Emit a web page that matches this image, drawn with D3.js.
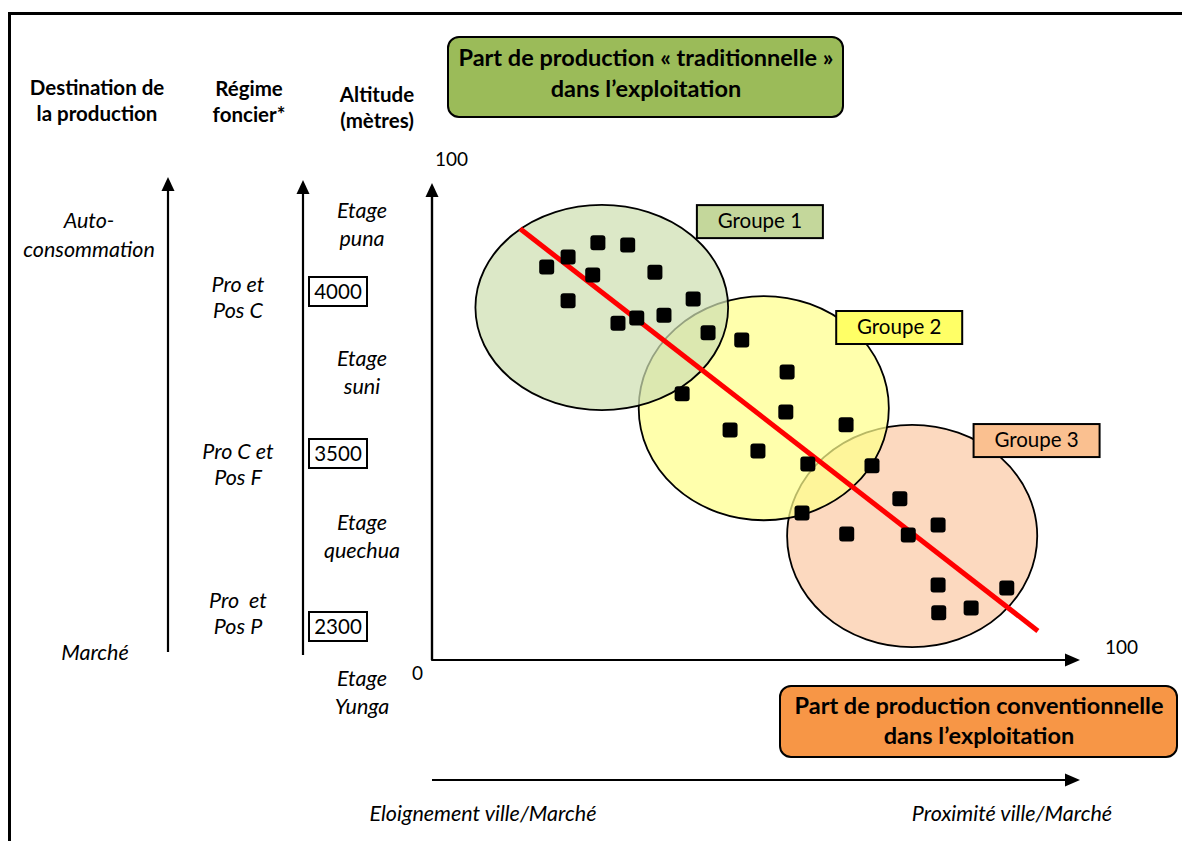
<!DOCTYPE html>
<html>
  <head>
    <meta charset="utf-8">
    <title>Typologie des exploitations</title>
    <script src="https://d3js.org/d3.v7.min.js"></script>
  </head>
  <style>
    body { margin: 0; background: #fff; }
    svg text { font-family: Lato, "Open Sans", sans-serif; fill: #000; font-size: 20.5px; }
    .head { font-weight: bold; font-size: 20.5px; }
    .title { font-weight: bold; font-size: 23.5px; }
    .it { font-style: italic; font-size: 21.5px; }
  </style>
  <body>
    <svg id="chart" width="1182" height="841"></svg>
    <script>
      // nuage de points (part conventionnelle en x, part traditionnelle en y, 0-100)
      var pointsX = [17.7, 21.0, 25.6, 30.2, 24.8, 34.4, 21.0, 40.3, 28.7, 31.6, 35.8, 42.6, 47.8, 54.8, 38.6,
                     54.6, 46.0, 50.3, 63.9, 58.0, 67.9, 72.2, 57.1, 78.1, 64.0, 73.5, 78.1, 88.7, 83.2, 78.2];
      var pointsY = [82.4, 84.5, 87.5, 87.0, 80.7, 81.3, 75.3, 75.7, 70.6, 71.7, 72.3, 68.6, 67.1, 60.4, 55.8,
                     52.0, 48.2, 43.8, 49.3, 41.1, 40.7, 33.8, 30.8, 28.3, 26.4, 26.2, 15.7, 15.1, 10.9, 9.9];

      // droite de tendance
      var trendX = [13.6, 93.5];
      var trendY = [90.4, 6.1];

      // groupes : centre et rayons en unites des axes
      var groupNames = ["Groupe 1", "Groupe 2", "Groupe 3"];
      var groupCx = [26.2, 51.2, 74.1];
      var groupCy = [73.9, 52.8, 26.0];
      var groupRx = [19.5, 19.3, 19.3];
      var groupRy = [21.5, 23.5, 23.3];
      var labelX = [50.6, 72.1, 93.3];
      var labelY = [91.8, 69.6, 45.9];

      // colonnes de gauche
      var altitudes = ["4000", "3500", "2300"];
      var etages = ["puna", "suni", "quechua", "Yunga"];
      var regimes = [["Pro et", "Pos C"], ["Pro C et", "Pos F"], ["Pro\u00a0 et", "Pos P"]];

      var fillEllipse = ["#cfdfb2", "#ffff8c", "#fbcba6"];
      var fillLabel = ["#c4d79b", "#ffff66", "#fac090"];

      var svg = d3.select("#chart");

      var xScale = d3.scaleLinear().domain([0, 100]).range([432, 1080]);
      var yScale = d3.scaleLinear().domain([0, 100]).range([660, 183]);

      // cadre
      svg.append("rect")
        .attr("x", 9.5).attr("y", 13.5)
        .attr("width", 1200).attr("height", 900)
        .attr("fill", "none").attr("stroke", "#000").attr("stroke-width", 3);

      function arrowUp(x, y0, y1) {
        svg.append("line").attr("x1", x).attr("x2", x).attr("y1", y0).attr("y2", y1 + 12)
          .attr("stroke", "#000").attr("stroke-width", 2.2);
        svg.append("path")
          .attr("d", "M" + (x - 6.5) + "," + (y1 + 14) + "L" + x + "," + y1 + "L" + (x + 6.5) + "," + (y1 + 14) + "Z")
          .attr("fill", "#000");
      }
      function arrowRight(y, x0, x1) {
        svg.append("line").attr("x1", x0).attr("x2", x1 - 12).attr("y1", y).attr("y2", y)
          .attr("stroke", "#000").attr("stroke-width", 2.2);
        svg.append("path")
          .attr("d", "M" + (x1 - 15) + "," + (y - 6.5) + "L" + x1 + "," + y + "L" + (x1 - 15) + "," + (y + 6.5) + "Z")
          .attr("fill", "#000");
      }

      function lines(x, ys, txts, cls) {
        var t = svg.append("text").attr("class", cls).attr("text-anchor", "middle");
        txts.forEach(function (s, i) {
          t.append("tspan").attr("x", x).attr("y", ys[i]).text(s);
        });
      }

      // en-tetes colonnes gauche
      lines(97, [95, 121], ["Destination de", "la production"], "head");
      lines(249, [96, 122], ["Régime", "foncier*"], "head");
      lines(377, [102, 128], ["Altitude", "(mètres)"], "head");

      arrowUp(168, 652, 177);
      arrowUp(303, 655, 180);

      lines(89, [228, 257], ["Auto-", "consommation"], "it");
      lines(95, [660], ["Marché"], "it");

      var regimeY = [292, 459, 608];
      regimes.forEach(function (r, i) {
        lines(238, [regimeY[i], regimeY[i] + 26], r, "it");
      });

      var etageY = [218, 366, 530, 686];
      etages.forEach(function (e, i) {
        lines(362, [etageY[i], etageY[i] + 28], ["Etage", e], "it");
      });

      var altY = [277, 439, 612];
      altitudes.forEach(function (a, i) {
        svg.append("rect").attr("x", 309).attr("y", altY[i]).attr("width", 58).attr("height", 29)
          .attr("fill", "#fff").attr("stroke", "#000").attr("stroke-width", 2);
        svg.append("text").attr("x", 338).attr("y", altY[i] + 22).attr("text-anchor", "middle").text(a);
      });

      // titre haut
      svg.append("rect").attr("x", 448).attr("y", 37).attr("width", 395).attr("height", 80)
        .attr("rx", 11).attr("fill", "#9bbb59").attr("stroke", "#000").attr("stroke-width", 2);
      lines(646, [66, 97], ["Part de production « traditionnelle »", "dans l\u2019exploitation"], "title");

      // ellipses des groupes (3 dessous, 1 dessus)
      d3.range(groupNames.length).reverse().forEach(function (i) {
        svg.append("ellipse")
          .attr("cx", xScale(groupCx[i])).attr("cy", yScale(groupCy[i]))
          .attr("rx", xScale(groupRx[i]) - xScale(0)).attr("ry", yScale(0) - yScale(groupRy[i]))
          .attr("fill", fillEllipse[i]).attr("fill-opacity", 0.72)
          .attr("stroke", "#000").attr("stroke-width", 1.8);
      });

      // axes
      svg.append("path")
        .attr("d", "M" + xScale(0) + "," + (yScale(100) + 12) + "V" + yScale(0) + "H" + (xScale(100) - 12))
        .attr("fill", "none").attr("stroke", "#000").attr("stroke-width", 2.2).attr("stroke-linejoin", "round");
      arrowUp(xScale(0), yScale(0), yScale(100));
      arrowRight(yScale(0), xScale(0), xScale(100));
      svg.append("text").attr("x", xScale(0) + 3).attr("y", yScale(100) - 17).style("font-size", "19px").text("100");
      svg.append("text").attr("x", xScale(100) + 25).attr("y", yScale(0) - 6).style("font-size", "19px").text("100");
      svg.append("text").attr("x", xScale(0) - 20).attr("y", yScale(0) + 20).style("font-size", "19px").text("0");

      // droite rouge
      var line = d3.line().x(function (d) { return xScale(d[0]); }).y(function (d) { return yScale(d[1]); });
      svg.append("path").attr("d", line(d3.zip(trendX, trendY)))
        .attr("stroke", "#ff0000").attr("stroke-width", 5).attr("fill", "none");

      // points
      svg.selectAll("rect.pt").data(d3.zip(pointsX, pointsY)).enter()
        .append("rect").attr("class", "pt")
        .attr("x", function (d) { return xScale(d[0]) - 7.5; })
        .attr("y", function (d) { return yScale(d[1]) - 7.5; })
        .attr("width", 15).attr("height", 15).attr("rx", 3)
        .attr("fill", "#000");

      // etiquettes des groupes
      groupNames.forEach(function (g, i) {
        var cx = xScale(labelX[i]), cy = yScale(labelY[i]);
        svg.append("rect").attr("x", cx - 63).attr("y", cy - 17).attr("width", 126).attr("height", 33)
          .attr("fill", fillLabel[i]).attr("stroke", "#000").attr("stroke-width", 2);
        svg.append("text").attr("x", cx).attr("y", cy + 6).attr("text-anchor", "middle").text(g);
      });

      // titre bas
      svg.append("rect").attr("x", 780).attr("y", 686).attr("width", 397).attr("height", 71)
        .attr("rx", 11).attr("fill", "#f79646").attr("stroke", "#000").attr("stroke-width", 2);
      lines(979, [714, 744], ["Part de production conventionnelle", "dans l\u2019exploitation"], "title");

      // fleche eloignement / proximite
      arrowRight(780, 432, 1080);
      lines(483, [821], ["Eloignement ville/Marché"], "it");
      lines(1012, [821], ["Proximité ville/Marché"], "it");
    </script>
  </body>
</html>
